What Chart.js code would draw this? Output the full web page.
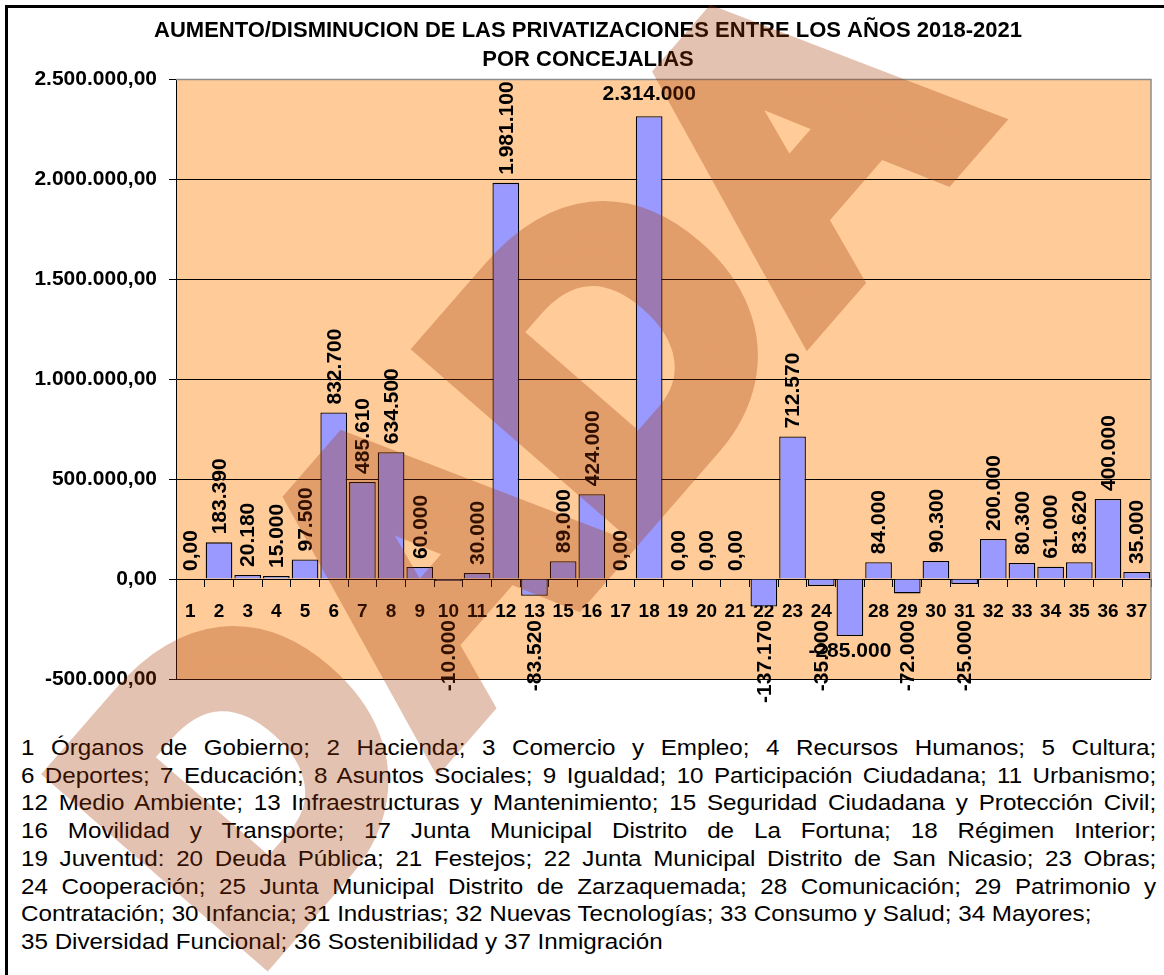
<!DOCTYPE html>
<html>
<head>
<meta charset="utf-8">
<script src="https://cdn.jsdelivr.net/npm/chart.js@4.4.1/dist/chart.umd.min.js"></script>
<style>
  body { margin: 0; background: #fff; }
  #wrap { position: relative; width: 1164px; height: 975px; overflow: hidden; }
  #frame { position: absolute; left: 5px; top: 5px; right: -10px; bottom: -10px;
           border-top: 3px solid #000; border-left: 3px solid #000; z-index: 0; }
  #notes { position: absolute; left: 21px; top: 734px; width: 1032px; z-index: 0;
           transform: scaleX(1.1); transform-origin: 0 0;
           font: 22px "Liberation Sans", Arial, sans-serif; line-height: 27.7px; color: #000; }
  #notes div { white-space: nowrap; }
  #notes .j { text-align: justify; text-align-last: justify; }
  #chart { position: absolute; left: 0; top: 0; z-index: 1; }
</style>
</head>
<body>
<div id="wrap">
  <div id="frame"></div>
  <div id="notes"></div>
  <canvas id="chart" width="1164" height="975"></canvas>
</div>
<script>
// datos
const categories = ['1','2','3','4','5','6','7','8','9','10','11','12','13','15','16','17','18',
                    '19','20','21','22','23','24','25','28','29','30','31','32','33','34','35','36','37'];
const values = [0, 183390, 20180, 15000, 97500, 832700, 485610, 634500, 60000, -10000, 30000,
                1981100, -83520, 89000, 424000, 0, 2314000, 0, 0, 0, -137170, 712570, -35000,
                -285000, 84000, -72000, 90300, -25000, 200000, 80300, 61000, 83620, 400000, 35000];
const yTicks = [-500000, 0, 500000, 1000000, 1500000, 2000000, 2500000];

const titleLines = ['AUMENTO/DISMINUCION DE LAS PRIVATIZACIONES ENTRE LOS AÑOS 2018-2021', 'POR CONCEJALIAS'];
const noteLines = [
  '1 Órganos de Gobierno; 2 Hacienda; 3 Comercio y Empleo; 4 Recursos Humanos; 5 Cultura;',
  '6 Deportes; 7 Educación; 8 Asuntos Sociales; 9 Igualdad; 10 Participación Ciudadana; 11 Urbanismo;',
  '12 Medio Ambiente; 13 Infraestructuras y Mantenimiento; 15 Seguridad Ciudadana y Protección Civil;',
  '16 Movilidad y Transporte; 17 Junta Municipal Distrito de La Fortuna; 18 Régimen Interior;',
  '19 Juventud: 20 Deuda Pública; 21 Festejos; 22 Junta Municipal Distrito de San Nicasio; 23 Obras;',
  '24 Cooperación; 25 Junta Municipal Distrito de Zarzaquemada; 28 Comunicación; 29 Patrimonio y',
  'Contratación; 30 Infancia; 31 Industrias; 32 Nuevas Tecnologías; 33 Consumo y Salud; 34 Mayores;',
  '35 Diversidad Funcional; 36 Sostenibilidad y 37 Inmigración'
];
const JUSTIFIED_LINES = 6;
// etiquetas que en el original van en horizontal
const HORIZONTAL_LABELS = ['18', '25'];

const FONT = '"Liberation Sans", Arial, sans-serif';

const notes = document.getElementById('notes');
noteLines.forEach((t, i) => {
  const d = document.createElement('div');
  if (i < JUSTIFIED_LINES) d.className = 'j';
  d.textContent = t;
  notes.appendChild(d);
});

function miles(v) {
  const s = Math.abs(Math.round(v)).toString().replace(/\B(?=(\d{3})+(?!\d))/g, '.');
  return (v < 0 ? '-' : '') + s;
}
function valueLabel(v) {
  return v === 0 ? '0,00' : miles(v);
}

const plotBackground = {
  id: 'plotBackground',
  beforeDraw(chart) {
    const { ctx, chartArea: a } = chart;
    ctx.save();
    ctx.fillStyle = '#FFCC99';
    ctx.fillRect(a.left, a.top, a.right - a.left, a.bottom - a.top);
    ctx.restore();
  },
  beforeDatasetsDraw(chart) {
    const { ctx, chartArea: a } = chart;
    ctx.save();
    ctx.strokeStyle = '#8c8c8c';
    ctx.lineWidth = 1.5;
    ctx.beginPath();
    ctx.moveTo(a.left, a.top + 0.5);
    ctx.lineTo(a.right, a.top + 0.5);
    ctx.lineTo(a.right, a.bottom);
    ctx.stroke();
    ctx.restore();
  }
};

const barLabels = {
  id: 'barLabels',
  afterDatasetsDraw(chart) {
    const { ctx } = chart;
    const meta = chart.getDatasetMeta(0);
    ctx.save();
    ctx.fillStyle = '#000';
    ctx.font = 'bold 21px ' + FONT;
    meta.data.forEach((bar, i) => {
      const v = values[i];
      const txt = valueLabel(v);
      const top = Math.min(bar.y, bar.base);
      const bottom = Math.max(bar.y, bar.base);
      if (HORIZONTAL_LABELS.includes(categories[i])) {
        ctx.textAlign = 'center';
        ctx.textBaseline = 'middle';
        if (v >= 0) ctx.fillText(txt, bar.x, top - 22);
        else ctx.fillText(txt, bar.x, bottom + 15);
        return;
      }
      ctx.save();
      ctx.textBaseline = 'middle';
      if (v >= 0) {
        ctx.translate(bar.x + 1, top - 8);
        ctx.rotate(-Math.PI / 2);
        ctx.textAlign = 'left';
      } else {
        ctx.translate(bar.x + 1, Math.max(bottom + 12, 620));
        ctx.rotate(-Math.PI / 2);
        ctx.textAlign = 'right';
      }
      ctx.fillText(txt, 0, 0);
      ctx.restore();
    });
    ctx.restore();
  }
};

// marca de agua (se pinta opaca en otro canvas y luego con transparencia)
const watermark = {
  id: 'watermark',
  afterDraw(chart) {
    const { ctx, width, height } = chart;
    const size = 390;
    const off = document.createElement('canvas');
    off.width = width;
    off.height = height;
    const o = off.getContext('2d');
    o.fillStyle = o.strokeStyle = 'rgb(163,54,0)';
    o.lineWidth = 32;
    o.lineJoin = 'miter';
    o.miterLimit = 4;
    o.font = 'bold ' + size + 'px ' + FONT;
    o.translate(605, 345);
    o.rotate(-49 * Math.PI / 180);
    const dw = o.measureText('DA').width;
    const d = o.measureText('D').width;
    o.textAlign = 'left';
    o.textBaseline = 'alphabetic';
    o.fillText('DADA', -dw - d / 2, 0.36 * size);
    o.strokeText('DADA', -dw - d / 2, 0.36 * size);
    ctx.save();
    ctx.globalAlpha = 0.3;
    ctx.drawImage(off, 0, 0);
    ctx.restore();
  }
};

new Chart(document.getElementById('chart'), {
  type: 'bar',
  data: {
    labels: categories,
    datasets: [{
      data: values,
      backgroundColor: '#9999FF',
      borderColor: '#000',
      borderWidth: 1.3,
      barPercentage: 0.93,
      categoryPercentage: 1
    }]
  },
  options: {
    responsive: false,
    animation: false,
    events: [],
    layout: { padding: { left: 25, right: 13, top: 0, bottom: 296 } },
    plugins: {
      legend: { display: false },
      tooltip: { enabled: false },
      title: {
        display: true,
        text: titleLines,
        color: '#000',
        font: { family: FONT, size: 22, weight: 'bold', lineHeight: 1.32 },
        padding: { top: 16.5, bottom: 4.5 }
      }
    },
    scales: {
      x: {
        position: { y: 0 },
        grid: { drawOnChartArea: false, drawTicks: true, tickLength: 7, color: '#000', offset: true },
        border: { display: true, color: '#000', width: 1 },
        ticks: {
          color: '#000', autoSkip: false, maxRotation: 0, padding: 14,
          font: { family: FONT, size: 19, weight: 'bold' }
        }
      },
      y: {
        min: yTicks[0],
        max: yTicks[yTicks.length - 1],
        afterBuildTicks: s => { s.ticks = yTicks.map(v => ({ value: v })); },
        afterFit: s => { s.width = 151; },
        grid: {
          color: c => (c.tick && c.tick.value === 2500000) ? '#8c8c8c' : '#000',
          tickColor: '#000',
          tickLength: 7
        },
        border: { display: true, color: '#000', width: 1 },
        ticks: {
          color: '#000', padding: 12,
          font: { family: FONT, size: 21, weight: 'bold' },
          callback: v => miles(v) + ',00'
        }
      }
    }
  },
  plugins: [plotBackground, barLabels, watermark]
});
</script>
</body>
</html>
